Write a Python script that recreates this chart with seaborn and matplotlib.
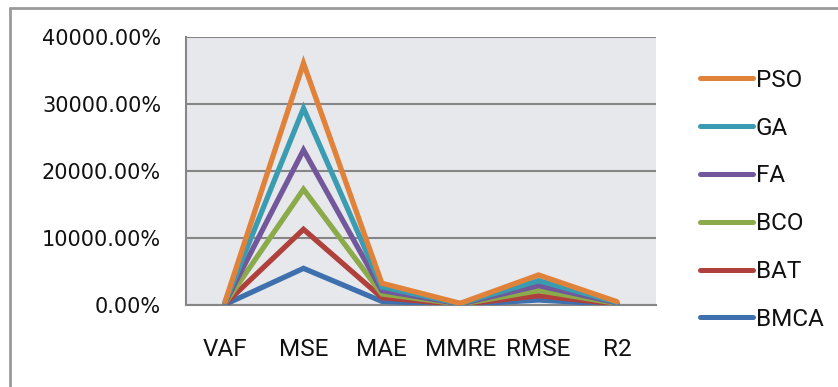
import matplotlib
matplotlib.use("Agg")
import matplotlib.pyplot as plt
from matplotlib.lines import Line2D
from matplotlib.ticker import FixedLocator, FuncFormatter
import seaborn as sns
import pandas as pd

categories = ["VAF", "MSE", "MAE", "MMRE", "RMSE", "R2"]
series_names = ["PSO", "GA", "FA", "BCO", "BAT", "BMCA"]
pso = [540, 36075, 3250, 250, 4480, 500]
ga = [450, 29360, 2700, 200, 3630, 400]
fa = [360, 23130, 2150, 160, 2890, 320]
bco = [270, 17270, 1650, 120, 2140, 240]
bat = [180, 11300, 1100, 80, 1390, 160]
bmca = [90, 5470, 550, 40, 750, 80]
y_ticks = [0, 10000, 20000, 30000, 40000]

colors = {"PSO": "#E0823A", "GA": "#3A9CB1", "FA": "#72589A",
          "BCO": "#8BAA4A", "BAT": "#B0403C", "BMCA": "#3F70AE"}

values = {"PSO": pso, "GA": ga, "FA": fa, "BCO": bco, "BAT": bat, "BMCA": bmca}
rows = []
for name in series_names:
    for c, v in zip(categories, values[name]):
        rows.append({"metric": c, "value": v, "series": name})
df = pd.DataFrame(rows)

sns.set_style("white")
narrow = ["Roboto", "DejaVu Sans"]
fig = plt.figure(figsize=(8.38, 3.87), dpi=100)
ax = fig.add_axes([186/838, 1-305/387, (656-186)/838, (305-37)/387])
ax.set_facecolor("#e7e8ec")

draw_order = list(reversed(series_names))
for name in draw_order:
    sub = df[df["series"] == name]
    sns.lineplot(data=sub, x="metric", y="value", color=colors[name], lw=3.8,
                 ax=ax, sort=False, solid_capstyle="round", solid_joinstyle="miter",
                 zorder=3, legend=False)

ax.set_xlim(-0.5, len(categories) - 0.5)
ax.set_ylim(0, 40000)
ax.yaxis.set_major_locator(FixedLocator(y_ticks))
ax.yaxis.set_major_formatter(FuncFormatter(lambda v, p: f"{v:.2f}%"))
ax.grid(axis="y", color="#868686", lw=1.5, zorder=1)
ax.grid(axis="x", visible=False)
for s in ["top", "right"]:
    ax.spines[s].set_visible(False)
for s in ["left", "bottom"]:
    ax.spines[s].set_color("#868686")
    ax.spines[s].set_linewidth(1.5)

ax.set_xticks(range(len(categories)))
ax.set_xticklabels(categories, fontfamily=narrow, fontsize=17.5)
ax.set_xticks([i - 0.5 for i in range(len(categories) + 1)], minor=True)
ax.tick_params(axis="x", which="major", length=0, pad=24)
ax.tick_params(axis="x", which="minor", length=6, width=1.5, color="#868686", direction="out")
ax.tick_params(axis="y", length=6, width=1.5, color="#868686", direction="out", pad=12, labelsize=15)
for lbl in ax.get_yticklabels():
    lbl.set_color("#111111")
for lbl in ax.get_xticklabels():
    lbl.set_color("#111111")
ax.set_xlabel("")
ax.set_ylabel("")

handles = [Line2D([0], [0], color=colors[n], lw=3.6, solid_capstyle="round") for n in series_names]
leg = fig.legend(handles, series_names, loc="upper left", bbox_to_anchor=(678/838, 1-47/387),
                 frameon=False, handlelength=2.2, handletextpad=0.1, labelspacing=1.02,
                 prop={"family": narrow, "size": 17.5})
for t in leg.get_texts():
    t.set_color("#111111")

fig.add_artist(Line2D([10/838, 10/838], [0, 1-8/387], transform=fig.transFigure, color="#9a9a9a", lw=2))
fig.add_artist(Line2D([10/838, 1], [1-8/387, 1-8/387], transform=fig.transFigure, color="#9a9a9a", lw=2))

fig.savefig("out.png", dpi=100)
